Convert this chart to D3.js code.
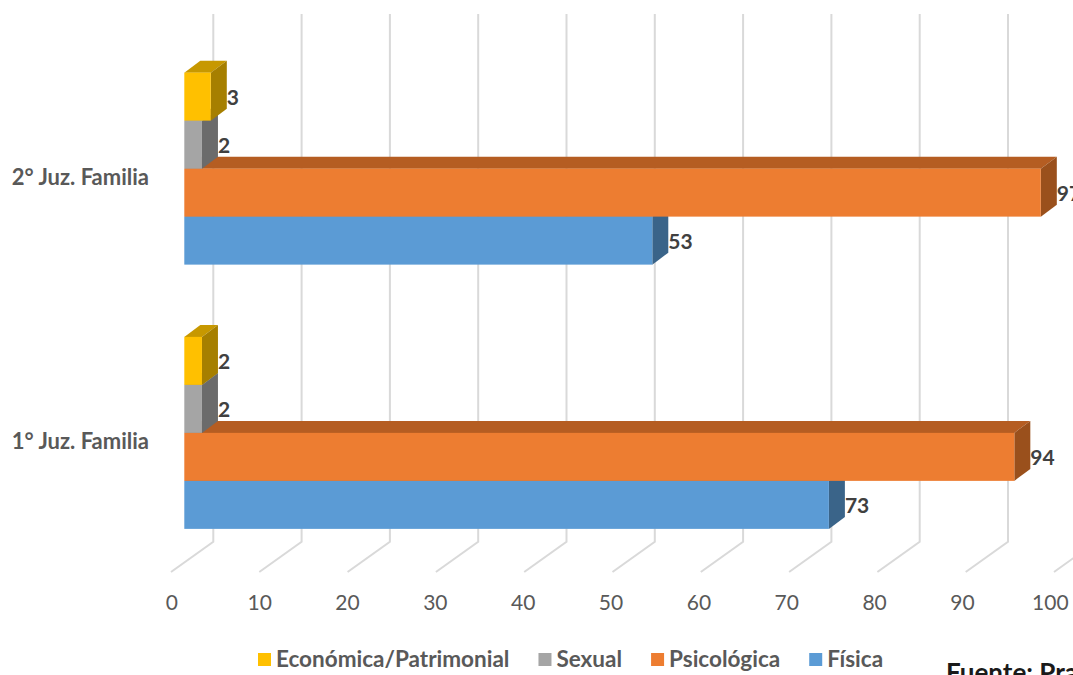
<!DOCTYPE html>
<html>
<head>
<meta charset="utf-8">
<script src="https://cdn.jsdelivr.net/npm/d3@7"></script>
<style>
  body { margin: 0; background: #fff; overflow: hidden; }
  text { font-family: Lato, "Open Sans", sans-serif; }
</style>
</head>
<body>
<script>
// data
var categories = ["2° Juz. Familia", "1° Juz. Familia"];
var seriesNames = ["Económica/Patrimonial", "Sexual", "Psicológica", "Física"];
var economica = [3, 2];
var sexual = [2, 2];
var psicologica = [97, 94];
var fisica = [53, 73];
var tickValues = [0, 10, 20, 30, 40, 50, 60, 70, 80, 90, 100];

var values = [economica, sexual, psicologica, fisica];
var frontColors = ["#FFC000", "#A5A5A5", "#ED7D31", "#5B9BD5"];
var topColors = ["#C79800", "#858585", "#B55D22", "#4677A4"];
var sideColors = ["#A67F00", "#6B6B6B", "#9A501C", "#3A6489"];

var W = 1073, H = 675;
var svg = d3.select("body").append("svg").attr("width", W).attr("height", H);

// x scale for the front face of the bars
var x = d3.scaleLinear().domain([0, 100]).range([184.3, 1067.3]);
var y = d3.scaleBand().domain(categories).range([36.5, 565]);
var inner = d3.scaleBand().domain(seriesNames).range([-96, 96]);

// 3d offsets
var dx = 16, dy = 12;          // bar depth
var wallX = 29, wallY = -20.8; // back wall relative to bar front
var floorX = -13.3, floorY = 9.5;
var gridTop = 14, gridBottom = 541.7;

// gridlines (back wall + floor)
var grid = svg.append("g");
tickValues.forEach(function(v) {
  var gx = x(v) + wallX;
  grid.append("path")
      .attr("d", "M" + gx + "," + gridTop + "V" + gridBottom +
                 "L" + (x(v) + floorX) + "," + (gridBottom - wallY + floorY))
      .attr("fill", "none")
      .attr("stroke", "#D9D9D9")
      .attr("stroke-width", 2);
});

// tick labels
svg.append("g").selectAll("text")
    .data(tickValues)
  .enter().append("text")
    .attr("x", function(d) { return x(d) - 12.5 - d * 0.045; })
    .attr("y", 610)
    .attr("text-anchor", "middle")
    .attr("font-size", 21)
    .attr("fill", "#595959")
    .text(function(d) { return d; });

// bars, drawn bottom series first so upper ones cover the top faces
var bars = svg.append("g");
categories.forEach(function(cat, ci) {
  for (var si = seriesNames.length - 1; si >= 0; si--) {
    var v = values[si][ci];
    var x0 = x(0), x1 = x(v);
    var y0 = y(cat) + y.bandwidth() / 2 + inner(seriesNames[si]);
    var h = inner.bandwidth();
    var g = bars.append("g");
    g.append("polygon")
        .attr("points", [[x0, y0], [x1, y0], [x1 + dx, y0 - dy], [x0 + dx, y0 - dy]].join(" "))
        .attr("fill", topColors[si]);
    g.append("polygon")
        .attr("points", [[x1, y0], [x1 + dx, y0 - dy], [x1 + dx, y0 + h - dy], [x1, y0 + h]].join(" "))
        .attr("fill", sideColors[si]);
    g.append("rect")
        .attr("x", x0).attr("y", y0)
        .attr("width", x1 - x0).attr("height", h)
        .attr("fill", frontColors[si]);
    svg.append("text")
        .attr("class", "lbl")
        .attr("x", x1 + dx)
        .attr("y", y0 + h / 2 + 8)
        .attr("font-size", 21)
        .attr("font-weight", "bold")
        .attr("fill", "#404040")
        .text(v);
  }
});
svg.selectAll("text.lbl").raise();

// category labels
svg.append("g").selectAll("text")
    .data(categories)
  .enter().append("text")
    .attr("x", 149)
    .attr("y", function(d) { return y(d) + y.bandwidth() / 2 + 16; })
    .attr("text-anchor", "end")
    .attr("font-size", 22)
    .attr("font-weight", "bold")
    .attr("fill", "#595959")
    .text(function(d) { return d; });

// legend
var legend = svg.append("g");
var lx = 258;
seriesNames.forEach(function(name, i) {
  legend.append("rect")
      .attr("x", lx).attr("y", 653)
      .attr("width", 13).attr("height", 13)
      .attr("fill", frontColors[i]);
  var t = legend.append("text")
      .attr("x", lx + 18).attr("y", 667)
      .attr("font-size", 22.5)
      .attr("font-weight", "bold")
      .attr("fill", "#595959")
      .text(name);
  lx += 18 + t.node().getComputedTextLength() + 29;
});

// source note, cut off at the right edge as in the original
svg.append("text")
    .attr("x", 946)
    .attr("y", 682)
    .attr("font-size", 26)
    .attr("font-weight", "bold")
    .attr("fill", "#1A1A1A")
    .text("Fuente: Pra");
</script>
</body>
</html>
